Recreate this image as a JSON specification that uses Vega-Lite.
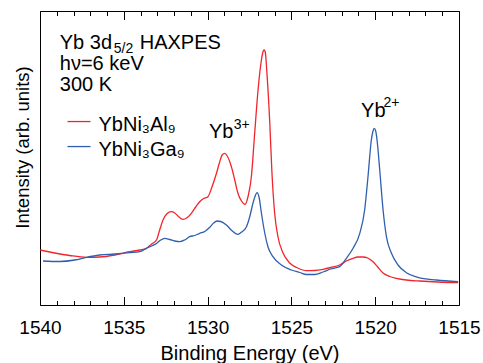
{
  "$schema": "https://vega.github.io/schema/vega-lite/v6.json",
  "width": 419,
  "height": 294,
  "autosize": {"type": "none"},
  "padding": {"left": 40, "top": 11, "right": 24, "bottom": 58},
  "background": "white",
  "config": {
    "font": "Liberation Sans",
    "view": {"stroke": "black", "strokeWidth": 1},
    "axis": {"grid": false, "domain": false, "tickColor": "black", "tickWidth": 1, "tickOpacity": 1, "labelColor": "black", "titleColor": "black", "titleFontWeight": "normal"},
    "legend": {
      "orient": "none", "legendX": 26.5, "legendY": 101.5, "padding": 0,
      "labelFontSize": 20, "labelFont": "Liberation Sans", "labelColor": "black",
      "symbolType": "M-1,-0.3L1,-0.3", "symbolSize": 529, "symbolStrokeWidth": 1.3,
      "labelOffset": 7, "rowPadding": 2, "title": null
    }
  },
  "datasets": {
    "spectra": [
      {"E": 1539.99, "I": 55, "sample": "YbNi₃Al₉"},
      {"E": 1539.12, "I": 52, "sample": "YbNi₃Al₉"},
      {"E": 1538.23, "I": 49.5, "sample": "YbNi₃Al₉"},
      {"E": 1537.23, "I": 47.7, "sample": "YbNi₃Al₉"},
      {"E": 1536.44, "I": 48, "sample": "YbNi₃Al₉"},
      {"E": 1535.54, "I": 50, "sample": "YbNi₃Al₉"},
      {"E": 1534.65, "I": 53.3, "sample": "YbNi₃Al₉"},
      {"E": 1534.05, "I": 55, "sample": "YbNi₃Al₉"},
      {"E": 1533.65, "I": 56.7, "sample": "YbNi₃Al₉"},
      {"E": 1533.34, "I": 61, "sample": "YbNi₃Al₉"},
      {"E": 1533.05, "I": 65, "sample": "YbNi₃Al₉"},
      {"E": 1532.86, "I": 75, "sample": "YbNi₃Al₉"},
      {"E": 1532.66, "I": 85, "sample": "YbNi₃Al₉"},
      {"E": 1532.44, "I": 91, "sample": "YbNi₃Al₉"},
      {"E": 1532.16, "I": 93.3, "sample": "YbNi₃Al₉"},
      {"E": 1531.96, "I": 92, "sample": "YbNi₃Al₉"},
      {"E": 1531.77, "I": 89, "sample": "YbNi₃Al₉"},
      {"E": 1531.47, "I": 85.7, "sample": "YbNi₃Al₉"},
      {"E": 1531.25, "I": 87, "sample": "YbNi₃Al₉"},
      {"E": 1530.97, "I": 91.7, "sample": "YbNi₃Al₉"},
      {"E": 1530.71, "I": 98, "sample": "YbNi₃Al₉"},
      {"E": 1530.47, "I": 103.3, "sample": "YbNi₃Al₉"},
      {"E": 1530.23, "I": 106.5, "sample": "YbNi₃Al₉"},
      {"E": 1529.98, "I": 108.3, "sample": "YbNi₃Al₉"},
      {"E": 1529.76, "I": 117, "sample": "YbNi₃Al₉"},
      {"E": 1529.47, "I": 131.7, "sample": "YbNi₃Al₉"},
      {"E": 1529.28, "I": 143, "sample": "YbNi₃Al₉"},
      {"E": 1529.13, "I": 150, "sample": "YbNi₃Al₉"},
      {"E": 1528.98, "I": 151.7, "sample": "YbNi₃Al₉"},
      {"E": 1528.83, "I": 149, "sample": "YbNi₃Al₉"},
      {"E": 1528.58, "I": 138.3, "sample": "YbNi₃Al₉"},
      {"E": 1528.38, "I": 125, "sample": "YbNi₃Al₉"},
      {"E": 1528.19, "I": 111.7, "sample": "YbNi₃Al₉"},
      {"E": 1527.98, "I": 104, "sample": "YbNi₃Al₉"},
      {"E": 1527.76, "I": 100.7, "sample": "YbNi₃Al₉"},
      {"E": 1527.58, "I": 109, "sample": "YbNi₃Al₉"},
      {"E": 1527.39, "I": 128, "sample": "YbNi₃Al₉"},
      {"E": 1527.19, "I": 172, "sample": "YbNi₃Al₉"},
      {"E": 1526.99, "I": 215, "sample": "YbNi₃Al₉"},
      {"E": 1526.79, "I": 245, "sample": "YbNi₃Al₉"},
      {"E": 1526.69, "I": 253.5, "sample": "YbNi₃Al₉"},
      {"E": 1526.63, "I": 255, "sample": "YbNi₃Al₉"},
      {"E": 1526.56, "I": 253, "sample": "YbNi₃Al₉"},
      {"E": 1526.46, "I": 232, "sample": "YbNi₃Al₉"},
      {"E": 1526.29, "I": 182, "sample": "YbNi₃Al₉"},
      {"E": 1526.16, "I": 132, "sample": "YbNi₃Al₉"},
      {"E": 1526.0, "I": 92, "sample": "YbNi₃Al₉"},
      {"E": 1525.8, "I": 68, "sample": "YbNi₃Al₉"},
      {"E": 1525.5, "I": 52, "sample": "YbNi₃Al₉"},
      {"E": 1525.1, "I": 42, "sample": "YbNi₃Al₉"},
      {"E": 1524.62, "I": 37, "sample": "YbNi₃Al₉"},
      {"E": 1524.1, "I": 34.3, "sample": "YbNi₃Al₉"},
      {"E": 1523.61, "I": 34.5, "sample": "YbNi₃Al₉"},
      {"E": 1523.11, "I": 35.7, "sample": "YbNi₃Al₉"},
      {"E": 1522.65, "I": 37.5, "sample": "YbNi₃Al₉"},
      {"E": 1522.12, "I": 40, "sample": "YbNi₃Al₉"},
      {"E": 1521.72, "I": 44, "sample": "YbNi₃Al₉"},
      {"E": 1521.32, "I": 46.7, "sample": "YbNi₃Al₉"},
      {"E": 1521.04, "I": 48, "sample": "YbNi₃Al₉"},
      {"E": 1520.73, "I": 48, "sample": "YbNi₃Al₉"},
      {"E": 1520.45, "I": 47, "sample": "YbNi₃Al₉"},
      {"E": 1520.13, "I": 43.3, "sample": "YbNi₃Al₉"},
      {"E": 1519.85, "I": 38, "sample": "YbNi₃Al₉"},
      {"E": 1519.53, "I": 32, "sample": "YbNi₃Al₉"},
      {"E": 1519.13, "I": 28.5, "sample": "YbNi₃Al₉"},
      {"E": 1518.74, "I": 26.7, "sample": "YbNi₃Al₉"},
      {"E": 1518.14, "I": 25, "sample": "YbNi₃Al₉"},
      {"E": 1517.34, "I": 24, "sample": "YbNi₃Al₉"},
      {"E": 1516.27, "I": 23, "sample": "YbNi₃Al₉"},
      {"E": 1515.05, "I": 22.3, "sample": "YbNi₃Al₉"},
      {"E": 1539.82, "I": 44, "sample": "YbNi₃Ga₉"},
      {"E": 1538.82, "I": 43.5, "sample": "YbNi₃Ga₉"},
      {"E": 1537.93, "I": 45, "sample": "YbNi₃Ga₉"},
      {"E": 1537.23, "I": 47.7, "sample": "YbNi₃Ga₉"},
      {"E": 1536.44, "I": 50, "sample": "YbNi₃Ga₉"},
      {"E": 1535.54, "I": 51, "sample": "YbNi₃Ga₉"},
      {"E": 1534.65, "I": 52.3, "sample": "YbNi₃Ga₉"},
      {"E": 1534.05, "I": 53.3, "sample": "YbNi₃Ga₉"},
      {"E": 1533.65, "I": 56.7, "sample": "YbNi₃Ga₉"},
      {"E": 1533.34, "I": 59, "sample": "YbNi₃Ga₉"},
      {"E": 1533.05, "I": 61.5, "sample": "YbNi₃Ga₉"},
      {"E": 1532.8, "I": 65, "sample": "YbNi₃Ga₉"},
      {"E": 1532.56, "I": 66.7, "sample": "YbNi₃Ga₉"},
      {"E": 1532.26, "I": 65.5, "sample": "YbNi₃Ga₉"},
      {"E": 1531.96, "I": 64, "sample": "YbNi₃Ga₉"},
      {"E": 1531.66, "I": 63.3, "sample": "YbNi₃Ga₉"},
      {"E": 1531.37, "I": 65, "sample": "YbNi₃Ga₉"},
      {"E": 1531.07, "I": 68.3, "sample": "YbNi₃Ga₉"},
      {"E": 1530.77, "I": 69.5, "sample": "YbNi₃Ga₉"},
      {"E": 1530.47, "I": 71.7, "sample": "YbNi₃Ga₉"},
      {"E": 1530.17, "I": 73.5, "sample": "YbNi₃Ga₉"},
      {"E": 1529.87, "I": 77.7, "sample": "YbNi₃Ga₉"},
      {"E": 1529.64, "I": 82, "sample": "YbNi₃Ga₉"},
      {"E": 1529.44, "I": 84, "sample": "YbNi₃Ga₉"},
      {"E": 1529.22, "I": 83.5, "sample": "YbNi₃Ga₉"},
      {"E": 1528.88, "I": 80, "sample": "YbNi₃Ga₉"},
      {"E": 1528.56, "I": 74.5, "sample": "YbNi₃Ga₉"},
      {"E": 1528.19, "I": 70.7, "sample": "YbNi₃Ga₉"},
      {"E": 1527.97, "I": 73, "sample": "YbNi₃Ga₉"},
      {"E": 1527.68, "I": 78.3, "sample": "YbNi₃Ga₉"},
      {"E": 1527.49, "I": 88, "sample": "YbNi₃Ga₉"},
      {"E": 1527.29, "I": 102, "sample": "YbNi₃Ga₉"},
      {"E": 1527.16, "I": 109, "sample": "YbNi₃Ga₉"},
      {"E": 1527.05, "I": 112.3, "sample": "YbNi₃Ga₉"},
      {"E": 1526.92, "I": 107, "sample": "YbNi₃Ga₉"},
      {"E": 1526.79, "I": 92, "sample": "YbNi₃Ga₉"},
      {"E": 1526.59, "I": 72, "sample": "YbNi₃Ga₉"},
      {"E": 1526.4, "I": 58.3, "sample": "YbNi₃Ga₉"},
      {"E": 1526.1, "I": 48.3, "sample": "YbNi₃Ga₉"},
      {"E": 1525.6, "I": 40, "sample": "YbNi₃Ga₉"},
      {"E": 1525.0, "I": 35, "sample": "YbNi₃Ga₉"},
      {"E": 1524.5, "I": 32.5, "sample": "YbNi₃Ga₉"},
      {"E": 1524.1, "I": 30.5, "sample": "YbNi₃Ga₉"},
      {"E": 1523.61, "I": 30.5, "sample": "YbNi₃Ga₉"},
      {"E": 1523.11, "I": 33, "sample": "YbNi₃Ga₉"},
      {"E": 1522.65, "I": 36, "sample": "YbNi₃Ga₉"},
      {"E": 1522.12, "I": 38.3, "sample": "YbNi₃Ga₉"},
      {"E": 1521.72, "I": 46.7, "sample": "YbNi₃Ga₉"},
      {"E": 1521.32, "I": 56.7, "sample": "YbNi₃Ga₉"},
      {"E": 1520.92, "I": 71.7, "sample": "YbNi₃Ga₉"},
      {"E": 1520.63, "I": 95, "sample": "YbNi₃Ga₉"},
      {"E": 1520.43, "I": 128.3, "sample": "YbNi₃Ga₉"},
      {"E": 1520.23, "I": 165, "sample": "YbNi₃Ga₉"},
      {"E": 1520.13, "I": 174, "sample": "YbNi₃Ga₉"},
      {"E": 1520.06, "I": 176.7, "sample": "YbNi₃Ga₉"},
      {"E": 1519.97, "I": 174, "sample": "YbNi₃Ga₉"},
      {"E": 1519.89, "I": 165, "sample": "YbNi₃Ga₉"},
      {"E": 1519.73, "I": 135, "sample": "YbNi₃Ga₉"},
      {"E": 1519.53, "I": 95, "sample": "YbNi₃Ga₉"},
      {"E": 1519.33, "I": 68.3, "sample": "YbNi₃Ga₉"},
      {"E": 1519.03, "I": 51.7, "sample": "YbNi₃Ga₉"},
      {"E": 1518.64, "I": 40, "sample": "YbNi₃Ga₉"},
      {"E": 1518.14, "I": 32.3, "sample": "YbNi₃Ga₉"},
      {"E": 1517.45, "I": 27.7, "sample": "YbNi₃Ga₉"},
      {"E": 1516.35, "I": 25, "sample": "YbNi₃Ga₉"},
      {"E": 1515.05, "I": 23.3, "sample": "YbNi₃Ga₉"}
    ],
    "labels": [
      {"E": 1538.82, "I": 256, "text": "Yb 3d"},
      {"E": 1534.05, "I": 256, "text": "HAXPES"},
      {"E": 1538.82, "I": 235, "text": "hν=6 keV"},
      {"E": 1538.82, "I": 214.3, "text": "300 K"},
      {"E": 1529.92, "I": 166.7, "text": "Yb"},
      {"E": 1520.84, "I": 188.5, "text": "Yb"}
    ],
    "scripts": [
      {"E": 1535.6, "I": 252, "text": "5/2"},
      {"E": 1528.44, "I": 176.5, "text": "3+"},
      {"E": 1519.5, "I": 198.5, "text": "2+"}
    ]
  },
  "resolve": {"scale": {"x": "independent"}, "axis": {"x": "independent", "y": "independent"}},
  "layer": [
    {
      "data": {"name": "spectra"},
      "mark": {"type": "line", "strokeWidth": 1.3, "interpolate": "monotone"},
      "encoding": {
        "x": {"field": "E", "type": "quantitative",
              "scale": {"domain": [1515, 1540], "reverse": true, "nice": false, "zero": false},
              "axis": {"orient": "bottom", "values": [1515, 1520, 1525, 1530, 1535, 1540], "ticks": false, "labelFontSize": 19, "labelPadding": 13.5, "labelFlush": false, "format": "d", "title": "Binding Energy (eV)", "titleFontSize": 20, "titleBaseline": "alphabetic", "titleY": 54}},
        "y": {"field": "I", "type": "quantitative",
              "scale": {"domain": [0, 294], "nice": false, "zero": false},
              "axis": {"title": "Intensity (arb. units)", "labels": false, "ticks": false, "titleFontSize": 18.5, "titleBaseline": "alphabetic", "titleX": -12, "titleY": 136, "titleAngle": -90}},
        "color": {"field": "sample", "type": "nominal",
                  "scale": {"domain": ["YbNi₃Al₉", "YbNi₃Ga₉"], "range": ["#f0262c", "#2f5fae"]},
                  "legend": {}}
      }
    },
    {
      "data": {"name": "spectra"},
      "mark": {"type": "tick", "opacity": 0},
      "encoding": {
        "x": {"field": "E", "type": "quantitative",
              "scale": {"domain": [1515, 1540], "reverse": true, "nice": false, "zero": false},
              "axis": {"orient": "bottom", "values": [1515, 1520, 1525, 1530, 1535, 1540], "ticks": true, "tickSize": 8.5, "offset": -8.5, "labels": false, "title": null}}
      }
    },
    {
      "data": {"name": "spectra"},
      "mark": {"type": "tick", "opacity": 0},
      "encoding": {
        "x": {"field": "E", "type": "quantitative",
              "scale": {"domain": [1515, 1540], "reverse": true, "nice": false, "zero": false},
              "axis": {"orient": "bottom", "values": [1516,1517,1518,1519,1521,1522,1523,1524,1526,1527,1528,1529,1531,1532,1533,1534,1536,1537,1538,1539], "ticks": true, "tickSize": 4.5, "offset": -4.5, "labels": false, "title": null}}
      }
    },
    {
      "data": {"name": "spectra"},
      "mark": {"type": "tick", "opacity": 0},
      "encoding": {
        "x": {"field": "E", "type": "quantitative",
              "scale": {"domain": [1515, 1540], "reverse": true, "nice": false, "zero": false},
              "axis": {"orient": "top", "values": [1515, 1520, 1525, 1530, 1535, 1540], "ticks": true, "tickSize": 8.5, "offset": -8.5, "labels": false, "title": null}}
      }
    },
    {
      "data": {"name": "spectra"},
      "mark": {"type": "tick", "opacity": 0},
      "encoding": {
        "x": {"field": "E", "type": "quantitative",
              "scale": {"domain": [1515, 1540], "reverse": true, "nice": false, "zero": false},
              "axis": {"orient": "top", "values": [1516,1517,1518,1519,1521,1522,1523,1524,1526,1527,1528,1529,1531,1532,1533,1534,1536,1537,1538,1539], "ticks": true, "tickSize": 4.5, "offset": -4.5, "labels": false, "title": null}}
      }
    },
    {
      "data": {"name": "labels"},
      "mark": {"type": "text", "align": "left", "baseline": "alphabetic", "fontSize": 20, "color": "black"},
      "encoding": {
        "x": {"field": "E", "type": "quantitative", "scale": {"domain": [1515, 1540], "reverse": true, "nice": false, "zero": false}, "axis": null},
        "y": {"field": "I", "type": "quantitative", "axis": null},
        "text": {"field": "text"}
      }
    },
    {
      "data": {"name": "scripts"},
      "mark": {"type": "text", "align": "left", "baseline": "alphabetic", "fontSize": 14, "color": "black"},
      "encoding": {
        "x": {"field": "E", "type": "quantitative", "scale": {"domain": [1515, 1540], "reverse": true, "nice": false, "zero": false}, "axis": null},
        "y": {"field": "I", "type": "quantitative", "axis": null},
        "text": {"field": "text"}
      }
    }
  ]
}
